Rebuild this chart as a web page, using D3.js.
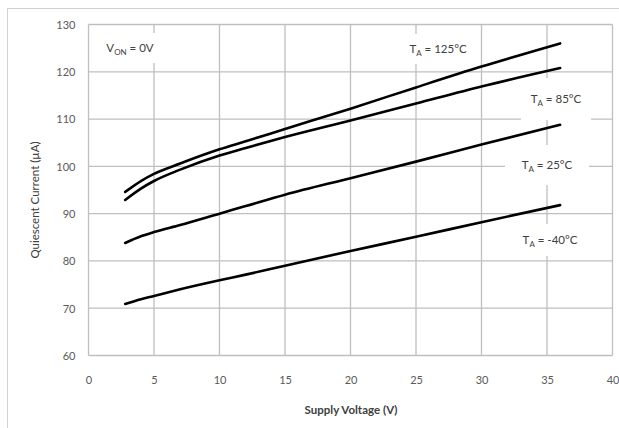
<!DOCTYPE html>
<html><head><meta charset="utf-8">
<script src="https://cdn.jsdelivr.net/npm/d3@7"></script>
<style>body{margin:0;background:#fff}svg{display:block}</style>
</head><body>
<svg id="c" width="619" height="428"></svg>
<script>
const voltage = [2.8, 4, 5, 7, 10, 12, 15, 20, 25, 30, 36];
const ta125 = [94.6, 96.9, 98.4, 100.6, 103.6, 105.3, 107.9, 112.2, 116.7, 121.1, 126.0];
const ta85  = [92.9, 95.3, 96.9, 99.3, 102.3, 103.9, 106.2, 109.7, 113.3, 116.9, 120.8];
const ta25  = [83.8, 85.2, 86.1, 87.6, 90.0, 91.6, 94.0, 97.5, 101.0, 104.6, 108.8];
const taM40 = [70.9, 71.9, 72.6, 74.0, 75.9, 77.1, 79.0, 82.1, 85.1, 88.2, 91.8];
const seriesNames = ["125°C", "85°C", "25°C", "-40°C"];
const xTicks = [0, 5, 10, 15, 20, 25, 30, 35, 40];
const yTicks = [60, 70, 80, 90, 100, 110, 120, 130];
const xTitle = "Supply Voltage (V)";
const yTitle = "Quiescent Current (µA)";

const svg = d3.select("#c");
const font = "Lato, 'Open Sans', sans-serif";
const x = d3.scaleLinear().domain([0, 40]).range([88.5, 612.5]);
const y = d3.scaleLinear().domain([60, 130]).range([355.5, 24.5]);

// outer frame
svg.append("rect").attr("x", 7.5).attr("y", 8.5).attr("width", 640).attr("height", 440)
  .attr("fill", "none").attr("stroke", "#d0d0d0").attr("stroke-width", 1);

// grid
const grid = svg.append("g").attr("stroke", "#bfbfbf").attr("stroke-width", 1.3);
grid.selectAll("line.h").data(yTicks).join("line")
  .attr("x1", x(0)).attr("x2", x(40)).attr("y1", d => y(d)).attr("y2", d => y(d));
grid.selectAll("line.v").data(xTicks).join("line")
  .attr("y1", y(60)).attr("y2", y(130)).attr("x1", d => x(d)).attr("x2", d => x(d));

// axes tick labels
const xAxis = d3.axisBottom(x).tickValues(xTicks).tickSize(0).tickPadding(0);
const gx = svg.append("g").attr("transform", `translate(0,${y(60)})`).call(xAxis);
gx.select(".domain").remove();
gx.selectAll("text").attr("dy", null).attr("y", 28).attr("font-family", font)
  .attr("font-size", 11).attr("fill", "#595959");
const yAxis = d3.axisLeft(y).tickValues(yTicks).tickSize(0).tickPadding(0);
const gy = svg.append("g").attr("transform", `translate(${x(0)},0)`).call(yAxis);
gy.select(".domain").remove();
gy.selectAll("text").attr("x", -13).attr("dy", "0.35em").attr("font-family", font)
  .attr("font-size", 11).attr("fill", "#595959");

// titles
svg.append("text").attr("x", 351).attr("y", 414).attr("text-anchor", "middle")
  .attr("font-family", font).attr("font-size", 11.5).attr("font-weight", "bold")
  .attr("fill", "#404040").text(xTitle);
svg.append("text").attr("transform", "translate(39,200) rotate(-90)").attr("text-anchor", "middle")
  .attr("font-family", font).attr("font-size", 11.5).attr("fill", "#404040").text(yTitle);

// labels with white boxes
function label(cx, cy, w, h, sub, main, rest) {
  const g = svg.append("g");
  g.append("rect").attr("x", cx - w / 2).attr("y", cy - h / 2).attr("width", w).attr("height", h).attr("fill", "#fff");
  const t = g.append("text").attr("x", cx).attr("y", cy + 4).attr("text-anchor", "middle")
    .attr("font-family", font).attr("font-size", 11.5).attr("fill", "#404040");
  t.append("tspan").text(main);
  t.append("tspan").attr("font-size", 8).attr("dy", 3).text(sub);
  t.append("tspan").attr("dy", -3).text(rest);
}
label(130, 48, 60, 30, "ON", "V", " = 0V");
label(438, 49, 80, 30, "A", "T", " = 125°C");
label(556, 99, 70, 42, "A", "T", " = 85°C");
label(547, 165, 84, 40, "A", "T", " = 25°C");
label(550, 240, 80, 32, "A", "T", " = -40°C");

// lines
const data = [ta125, ta85, ta25, taM40];
const line = d3.line().x((d, i) => x(voltage[i])).y(d => y(d)).curve(d3.curveMonotoneX);
svg.selectAll("path.s").data(data).join("path").attr("class", "s")
  .attr("d", d => line(d)).attr("fill", "none").attr("stroke", "#000")
  .attr("stroke-width", 2.6).attr("stroke-linecap", "round");
</script>
</body></html>
